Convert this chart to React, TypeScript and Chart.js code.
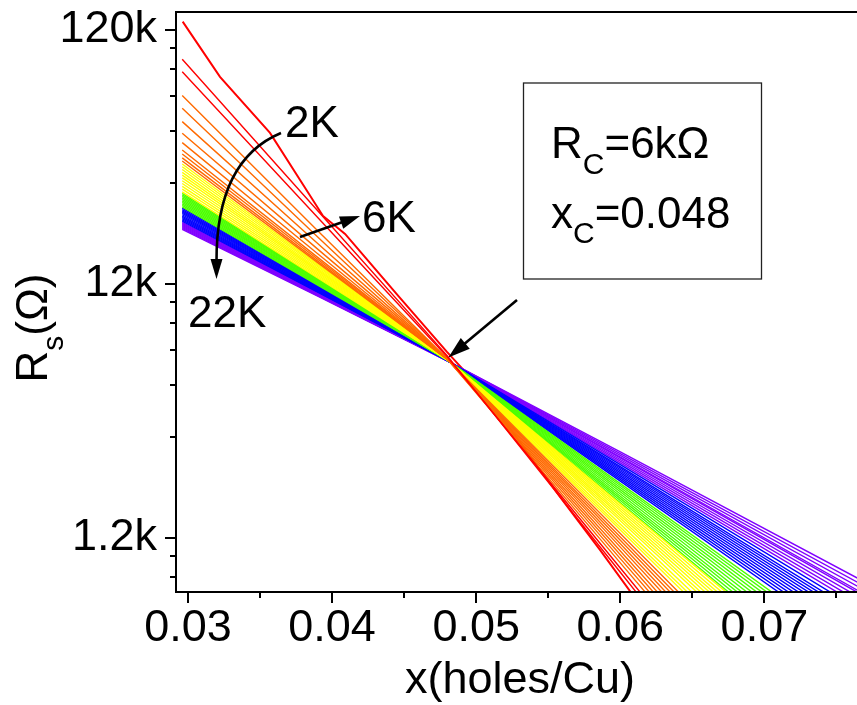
import React, { useEffect, useRef } from 'react';
import { Chart, registerables } from 'chart.js';

Chart.register(...registerables);

const FONT = '"Liberation Sans", Arial, Helvetica, sans-serif';

// Doping values (holes/Cu) at which the isotherms are sampled
const xGrid = [0.0296, 0.039, 0.048, 0.06, 0.077];

// Lowest isotherm (2 K), sampled more densely because of its kinks
const twoKelvinX = [0.02963, 0.03222, 0.03569, 0.03937, 0.0409, 0.04471, 0.04797, 0.05026, 0.05582, 0.05859, 0.06137];
const twoKelvinR = [129400, 78390, 47180, 22230, 18880, 10570, 6480, 4674, 1740, 1076, 654];

// Sheet resistance (ohm) on xGrid, coldest to warmest within each colour band
const redR = [
  [92000, 23300, 6250, 879, 54.6],
  [82200, 21930, 6190, 914, 60.8],
];
const orangeR = [
  [66200, 19440, 6080, 957, 70.5],
  [59000, 18380, 6080, 995, 77.5],
  [52260, 17320, 6070, 1030, 84.3],
  [47050, 16450, 6070, 1066, 91.5],
  [43200, 15780, 6060, 1104, 99.7],
  [40430, 15270, 6060, 1139, 107.6],
  [38990, 15010, 6060, 1176, 116.3],
  [37610, 14750, 6050, 1211, 124.5],
  [36590, 14550, 6050, 1248, 133.9],
];
const yellowR = [
  [35610, 14360, 6050, 1290, 145.2],
  [34720, 14180, 6050, 1323, 154.4],
  [33850, 14020, 6040, 1360, 165.0],
  [33010, 13840, 6040, 1401, 177.4],
  [32170, 13660, 6040, 1433, 187.5],
  [31370, 13500, 6040, 1469, 198.7],
  [30580, 13330, 6040, 1502, 210.2],
  [29820, 13160, 6030, 1534, 221.1],
  [29070, 12990, 6030, 1566, 232.2],
  [28340, 12840, 6030, 1601, 244.5],
  [27630, 12680, 6030, 1633, 257.0],
];
const greenR = [
  [27260, 12600, 6030, 1651, 263.8],
  [26890, 12510, 6030, 1684, 276.8],
  [26530, 12430, 6020, 1718, 290.6],
  [26170, 12350, 6020, 1751, 304.1],
  [25820, 12260, 6020, 1788, 319.7],
  [25470, 12180, 6020, 1824, 335.4],
  [25120, 12110, 6020, 1859, 351.3],
  [24790, 12020, 6010, 1895, 367.6],
  [24450, 11950, 6010, 1930, 384.3],
  [24120, 11870, 6010, 1963, 400.6],
];
const blueR = [
  [23840, 11800, 6010, 2008, 423.0],
  [23560, 11730, 6010, 2041, 440.3],
  [23280, 11670, 6000, 2073, 457.4],
  [23010, 11600, 6000, 2105, 474.7],
  [22740, 11530, 6000, 2138, 492.3],
  [22470, 11470, 6000, 2169, 510.0],
  [22210, 11390, 6000, 2201, 527.9],
  [21950, 11330, 5990, 2231, 545.5],
  [21690, 11270, 5990, 2262, 563.5],
  [21440, 11200, 5990, 2291, 581.6],
  [21190, 11140, 5990, 2331, 605.8],
];
const violetR = [
  [20960, 11080, 5990, 2369, 630.5],
  [20770, 11030, 5980, 2406, 654.3],
  [20580, 10980, 5980, 2443, 679],
  [20390, 10930, 5980, 2479, 703.7],
  [20210, 10880, 5980, 2499, 717.8],
  [20030, 10840, 5980, 2538, 745],
  [19850, 10790, 5970, 2577, 773],
  [19670, 10750, 5970, 2617, 802.6],
];

const RED = '#ff0000';
const ORANGE = '#ff6a00';
const YELLOW = '#ffff00';
const GREEN = '#4cff00';
const BLUE = '#0000ff';
const VIOLET = '#8000ff';

const xMajorTicks = [0.03, 0.04, 0.05, 0.06, 0.07];
const xMinorTicks = [0.035, 0.045, 0.055, 0.065, 0.075];
const yMajorTicks = [1200, 12000, 120000];
const yTickLabels = ['1.2k', '12k', '120k'];
const yMinorTicks = [840, 1020, 3000, 4800, 6600, 8400, 10200, 30000, 48000, 66000, 84000, 102000];

// Critical point of the scaling analysis
const xCrit = 0.048;
const rCrit = 6000;

type Part = [string, number, number];

function drawParts(ctx: CanvasRenderingContext2D, parts: Part[], x: number, y: number) {
  let cx = x;
  for (const [text, size, dy] of parts) {
    ctx.font = `${size}px ${FONT}`;
    ctx.fillText(text, cx, y + dy);
    cx += ctx.measureText(text).width;
  }
}

function partsWidth(ctx: CanvasRenderingContext2D, parts: Part[]) {
  let w = 0;
  for (const [text, size] of parts) {
    ctx.font = `${size}px ${FONT}`;
    w += ctx.measureText(text).width;
  }
  return w;
}

function arrowHead(ctx: CanvasRenderingContext2D, tipX: number, tipY: number, angle: number, len: number, half: number) {
  const bx = tipX - Math.cos(angle) * len;
  const by = tipY - Math.sin(angle) * len;
  const nx = -Math.sin(angle) * half;
  const ny = Math.cos(angle) * half;
  ctx.beginPath();
  ctx.moveTo(tipX, tipY);
  ctx.lineTo(bx + nx, by + ny);
  ctx.lineTo(bx - nx, by - ny);
  ctx.closePath();
  ctx.fill();
}

function straightArrow(ctx: CanvasRenderingContext2D, x0: number, y0: number, x1: number, y1: number, len: number, half: number) {
  const ang = Math.atan2(y1 - y0, x1 - x0);
  ctx.beginPath();
  ctx.moveTo(x0, y0);
  ctx.lineTo(x1 - Math.cos(ang) * len * 0.8, y1 - Math.sin(ang) * len * 0.8);
  ctx.stroke();
  arrowHead(ctx, x1, y1, ang, len, half);
}

const framePlugin = {
  id: 'frameAndNotes',
  afterDraw(chart: any) {
    const { ctx, chartArea: a, scales } = chart;
    const sx = scales.x;
    const sy = scales.y;
    ctx.save();
    ctx.strokeStyle = '#000';
    ctx.fillStyle = '#000';
    ctx.lineWidth = 2;
    ctx.lineCap = 'butt';

    // axis frame: left, top, bottom
    ctx.beginPath();
    ctx.moveTo(a.right + 2, a.top);
    ctx.lineTo(a.left, a.top);
    ctx.lineTo(a.left, a.bottom);
    ctx.lineTo(a.right + 2, a.bottom);
    ctx.stroke();

    // tick marks, pointing outwards
    ctx.beginPath();
    for (const v of xMajorTicks) {
      const p = Math.round(sx.getPixelForValue(v));
      ctx.moveTo(p, a.bottom);
      ctx.lineTo(p, a.bottom + 11);
    }
    for (const v of xMinorTicks) {
      const p = Math.round(sx.getPixelForValue(v));
      ctx.moveTo(p, a.bottom);
      ctx.lineTo(p, a.bottom + 6);
    }
    for (const v of yMajorTicks) {
      const p = Math.round(sy.getPixelForValue(v));
      ctx.moveTo(a.left, p);
      ctx.lineTo(a.left - 11, p);
    }
    for (const v of yMinorTicks) {
      const p = Math.round(sy.getPixelForValue(v));
      ctx.moveTo(a.left, p);
      ctx.lineTo(a.left - 6, p);
    }
    ctx.stroke();

    ctx.textBaseline = 'alphabetic';
    ctx.textAlign = 'left';

    // axis titles
    const xTitle: Part[] = [['x(holes/Cu)', 45, 0]];
    const xw = partsWidth(ctx, xTitle);
    drawParts(ctx, xTitle, 520 - xw / 2, 693);

    const yTitle: Part[] = [['R', 44, 0], ['s', 30, 16], ['(\u03A9)', 44, 0]];
    const yw = partsWidth(ctx, yTitle);
    ctx.save();
    ctx.translate(47, 328);
    ctx.rotate(-Math.PI / 2);
    drawParts(ctx, yTitle, -yw / 2, 0);
    ctx.restore();

    // parameter box
    ctx.lineWidth = 1.3;
    ctx.strokeStyle = '#222';
    ctx.strokeRect(523.5, 83, 238, 196);
    ctx.fillStyle = '#000';
    drawParts(ctx, [['R', 44, 0], ['C', 30, 16], ['=6k\u03A9', 44, 0]], 551, 158);
    drawParts(ctx, [['x', 44, 0], ['C', 30, 15], ['=0.048', 44, 0]], 551, 228);

    // temperature labels
    drawParts(ctx, [['2K', 44, 0]], 285, 137);
    drawParts(ctx, [['6K', 44, 0]], 362, 232);
    drawParts(ctx, [['22K', 44, 0]], 188, 327);

    // arrows
    ctx.strokeStyle = '#000';
    ctx.lineWidth = 2.6;
    ctx.beginPath();
    ctx.moveTo(281, 133);
    ctx.quadraticCurveTo(216, 160, 216.5, 262);
    ctx.stroke();
    arrowHead(ctx, 216.5, 279, Math.PI / 2, 20, 6);

    straightArrow(ctx, 300, 237, 360, 216, 20, 6.5);

    const tipX = sx.getPixelForValue(xCrit) + 1;
    const tipY = sy.getPixelForValue(rCrit) - 3;
    straightArrow(ctx, 517, 300, tipX, tipY, 22, 7);

    ctx.restore();
  },
};

export default function App() {
  const canvasRef = useRef<HTMLCanvasElement | null>(null);

  useEffect(() => {
    document.body.style.margin = '0';
    const canvas = canvasRef.current;
    if (!canvas) return;

    const datasets: any[] = [];
    const bands: [number[][], string][] = [
      [redR, RED],
      [orangeR, ORANGE],
      [yellowR, YELLOW],
      [greenR, GREEN],
      [blueR, BLUE],
      [violetR, VIOLET],
    ];
    for (const [rows, color] of bands) {
      for (const row of rows) {
        datasets.push({
          data: xGrid.map((x, i) => ({ x, y: row[i] })),
          borderColor: color,
          borderWidth: 1.4,
          pointRadius: 0,
          fill: false,
        });
      }
    }
    datasets.push({
      data: twoKelvinX.map((x, i) => ({ x, y: twoKelvinR[i] })),
      borderColor: RED,
      borderWidth: 2,
      pointRadius: 0,
      fill: false,
    });

    const chart = new Chart(canvas, {
      type: 'line',
      data: { datasets },
      options: {
        responsive: false,
        maintainAspectRatio: false,
        animation: false,
        layout: { padding: { top: 12, right: 0, bottom: 0, left: 0 } },
        plugins: { legend: { display: false }, tooltip: { enabled: false } },
        elements: { line: { tension: 0 }, point: { radius: 0 } },
        scales: {
          x: {
            type: 'linear',
            min: 0.029167,
            max: 0.076426,
            grid: { display: false, drawTicks: false },
            border: { display: false },
            afterBuildTicks: (s: any) => {
              s.ticks = xMajorTicks.map((v) => ({ value: v }));
            },
            afterFit: (s: any) => {
              s.height = 113;
              s.paddingLeft = 0;
              s.paddingRight = 0;
            },
            ticks: {
              color: '#000',
              font: { family: FONT, size: 45 },
              padding: 10,
              maxRotation: 0,
              autoSkip: false,
              callback: (v: any) => Number(v).toFixed(2),
            },
          },
          y: {
            type: 'logarithmic',
            min: 735,
            max: 141200,
            grid: { display: false, drawTicks: false },
            border: { display: false },
            afterBuildTicks: (s: any) => {
              s.ticks = yMajorTicks.map((v) => ({ value: v }));
            },
            afterFit: (s: any) => {
              s.width = 176;
              s.paddingTop = 0;
              s.paddingBottom = 0;
            },
            ticks: {
              color: '#000',
              font: { family: FONT, size: 45 },
              padding: 19,
              autoSkip: false,
              callback: (v: any) => {
                const i = yMajorTicks.indexOf(Number(v));
                return i >= 0 ? yTickLabels[i] : '';
              },
            },
          },
        },
      },
      plugins: [framePlugin],
    });

    return () => chart.destroy();
  }, []);

  return (
    <div style={{ width: 857, height: 705, position: 'relative', background: '#fff' }}>
      <canvas ref={canvasRef} width={857} height={705} style={{ display: 'block' }} />
    </div>
  );
}
